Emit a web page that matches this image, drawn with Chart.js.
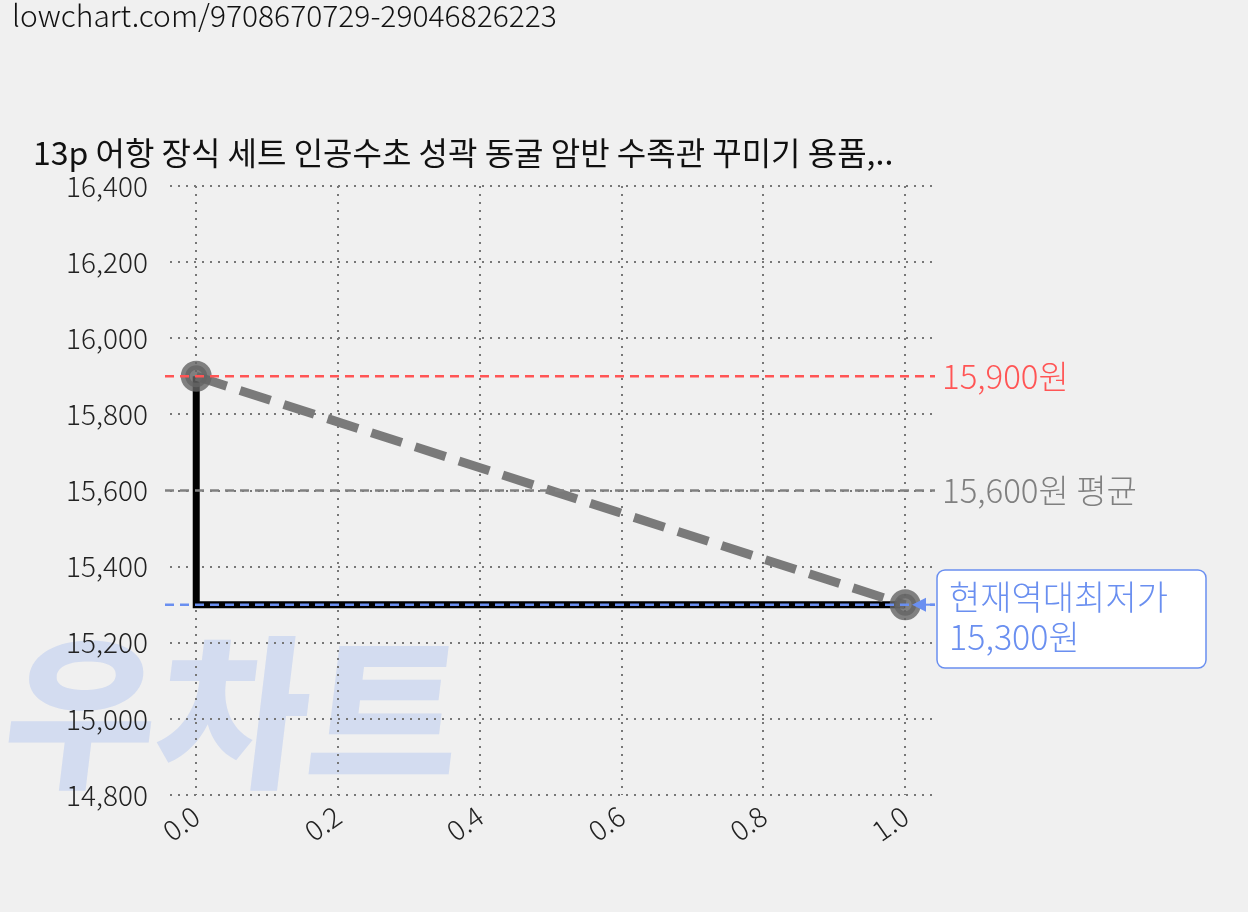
<!DOCTYPE html>
<html><head><meta charset="utf-8">
<script src="https://cdn.jsdelivr.net/npm/chart.js@4/dist/chart.umd.min.js"></script>
<style>body{margin:0;background:#f0f0f0}canvas{display:block}</style></head>
<body><canvas id="c" width="1248" height="912"></canvas>
<script>
const xTicks=[0,0.2,0.4,0.6,0.8,1.0];
const yTicks=[14800,15000,15200,15400,15600,15800,16000,16200,16400];
const stepX=[0,0,1];
const stepY=[15900,15300,15300];
const trendX=[0,1];
const trendY=[15900,15300];
const maxPrice=15900, avgPrice=15600, minPrice=15300;
const titleText='13p 어항 장식 세트 인공수초 성곽 동굴 암반 수족관 꾸미기 용품,..';
const urlText='lowchart.com/9708670729-29046826223';
const F='"Noto Sans CJK KR", Roboto, sans-serif';

const deco={id:'deco',
 beforeDraw(c){const g=c.ctx;g.save();g.fillStyle='#f0f0f0';g.fillRect(0,0,c.width,c.height);
  g.fillStyle='rgba(175,195,240,0.45)';g.font='900 165px "Noto Sans CJK KR"';g.textBaseline='alphabetic';
  g.setTransform(1,0,-0.12,1,0,0);
  g.fillText('로우차트',-60,775);g.restore();},
 afterDatasetsDraw(c){const g=c.ctx,x=c.scales.x,y=c.scales.y;g.save();
  const L=165,R=935;
  const hl=(v,col,txt)=>{const yy=y.getPixelForValue(v);g.strokeStyle=col;g.lineWidth=2.5;g.setLineDash([9,6]);
   g.beginPath();g.moveTo(L,yy);g.lineTo(R,yy);g.stroke();g.setLineDash([]);
   if(txt){g.fillStyle=col;g.font='300 33px '+F;g.textBaseline='middle';g.fillText(txt,942,yy);}};
  hl(maxPrice,'#ff5555','15,900원');hl(avgPrice,'#808080','15,600원 평균');hl(minPrice,'#6a8ff0',null);
  g.fillStyle='#fff';g.strokeStyle='#6a8ff0';g.lineWidth=1.5;
  g.beginPath();g.roundRect(937,570,269,98,8);g.fill();g.stroke();
  g.fillStyle='#6a8ff0';g.font='300 34px '+F;g.textBaseline='middle';
  g.fillText('현재역대최저가',949,597);g.fillText('15,300원',949,637);
  const ay=y.getPixelForValue(minPrice);
  g.strokeStyle='#6a8ff0';g.lineWidth=2;g.beginPath();g.moveTo(935,ay);g.lineTo(918,ay);g.stroke();
  g.beginPath();g.moveTo(912,ay);g.lineTo(926,ay-7);g.lineTo(926,ay+7);g.closePath();g.fill();
  g.fillStyle='#111';g.font='300 30px '+F;g.textBaseline='middle';
  g.fillText(urlText,12,16);
  g.font='32px '+F;g.fillText(titleText,33,153);
  g.restore();}
};

new Chart(document.getElementById('c'),{
 type:'scatter',
 data:{datasets:[
  {data:trendX.map((v,i)=>({x:v,y:trendY[i]})),showLine:true,borderColor:'#7a7a7a',borderWidth:9,borderDash:[32,14],
   pointRadius:11,pointBackgroundColor:'rgba(100,100,100,0.8)',pointBorderColor:'rgba(100,100,100,0.8)',order:1},
  {data:stepX.map((v,i)=>({x:v,y:stepY[i]})),showLine:true,borderColor:'#000',borderWidth:7,pointRadius:0,order:2}
 ]},
 options:{responsive:false,animation:false,
  layout:{padding:{left:0,top:186,right:313,bottom:0}},
  plugins:{legend:{display:false},tooltip:{enabled:false}},
  scales:{
   x:{type:'linear',min:-0.037,max:1.042,
    afterBuildTicks:s=>{s.ticks=xTicks.map(v=>({value:v}));},
    afterFit:s=>{s.height=117;},
    border:{display:false,dash:[2,6]},
    grid:{color:'#777',lineWidth:2,drawTicks:false},
    ticks:{color:'#222',font:{family:F,size:28,weight:300},maxRotation:35,minRotation:35,padding:4,callback:v=>v.toFixed(1)}},
   y:{min:14800,max:16400,
    afterBuildTicks:s=>{s.ticks=yTicks.map(v=>({value:v}));},
    afterFit:s=>{s.width=170;},
    border:{display:false,dash:[2,6]},
    grid:{color:'#777',lineWidth:2,drawTicks:false},
    ticks:{color:'#222',font:{family:F,size:28,weight:300},padding:22,callback:v=>v.toLocaleString('en-US')}}
  }},
 plugins:[deco]
});
</script></body></html>
